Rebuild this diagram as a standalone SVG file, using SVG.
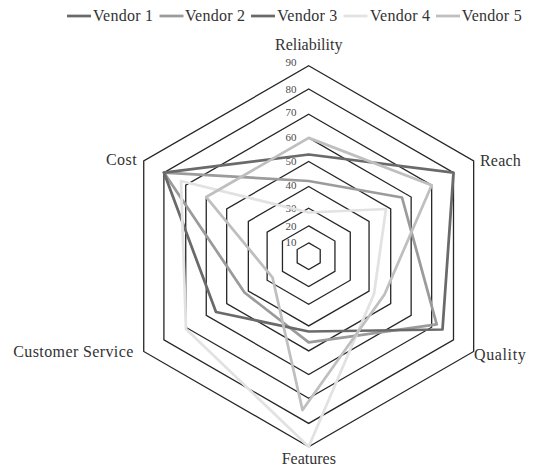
<svg xmlns="http://www.w3.org/2000/svg" width="539" height="468" viewBox="0 0 539 468">
<style>
.bg{fill:#ffffff}
.ring{fill:none;stroke:#262626;stroke-width:1.3;stroke-linejoin:miter}
.series{fill:none;stroke-width:2.75;stroke-linejoin:round}
.v1{stroke:#6a6a6a}
.v2{stroke:#9b9b9b}
.v3{stroke:#6a6a6a}
.v4{stroke:#e2e2e2}
.v5{stroke:#bfbfbf}
.lg{stroke-width:2.75;fill:none}
.txt{font-family:"Liberation Serif","Times New Roman",serif;font-size:16px;fill:#333333}
.tick{font-family:"Liberation Serif","Times New Roman",serif;font-size:11px;fill:#4a4a4a;text-anchor:end}
</style>
<rect class="bg" x="0" y="0" width="539" height="468"/>
<g id="legend">
  <g id="legend-vendor-1"><line class="lg v1" x1="67" y1="16" x2="91" y2="16"/><text class="txt" x="93" y="21" textLength="60">Vendor 1</text></g>
  <g id="legend-vendor-2"><line class="lg v2" x1="159.5" y1="16" x2="183.5" y2="16"/><text class="txt" x="185" y="21" textLength="60">Vendor 2</text></g>
  <g id="legend-vendor-3"><line class="lg v3" x1="251" y1="16" x2="275" y2="16"/><text class="txt" x="277.3" y="21" textLength="60">Vendor 3</text></g>
  <g id="legend-vendor-4"><line class="lg v4" x1="343.5" y1="16" x2="367.5" y2="16"/><text class="txt" x="370" y="21" textLength="60">Vendor 4</text></g>
  <g id="legend-vendor-5"><line class="lg v5" x1="436" y1="16" x2="460" y2="16"/><text class="txt" x="461.7" y="21" textLength="60">Vendor 5</text></g>
</g>
<g id="grid">
  <polygon class="ring" points="308.7,242.9 320.22,249.55 320.22,262.85 308.7,269.5 297.18,262.85 297.18,249.55"/>
  <polygon class="ring" points="308.7,225.9 334.94,241.05 334.94,271.35 308.7,286.5 282.46,271.35 282.46,241.05"/>
  <polygon class="ring" points="308.7,208.2 350.27,232.2 350.27,280.2 308.7,304.2 267.13,280.2 267.13,232.2"/>
  <polygon class="ring" points="308.7,186.5 369.06,221.35 369.06,291.05 308.7,325.9 248.34,291.05 248.34,221.35"/>
  <polygon class="ring" points="308.7,161.5 390.71,208.85 390.71,303.55 308.7,350.9 226.69,303.55 226.69,208.85"/>
  <polygon class="ring" points="308.7,137.9 411.15,197.05 411.15,315.35 308.7,374.5 206.25,315.35 206.25,197.05"/>
  <polygon class="ring" points="308.7,114.2 431.67,185.2 431.67,327.2 308.7,398.2 185.73,327.2 185.73,185.2"/>
  <polygon class="ring" points="308.7,89 453.5,172.6 453.5,339.8 308.7,423.4 163.9,339.8 163.9,172.6"/>
  <polygon class="ring" points="308.7,65.7 473.67,160.95 473.67,351.45 308.7,446.7 143.73,351.45 143.73,160.95"/>
</g>
<g id="ticks">
  <text class="tick" x="296.5" y="246.3">10</text>
  <text class="tick" x="296.5" y="229.7">20</text>
  <text class="tick" x="296.5" y="211.5">30</text>
  <text class="tick" x="296.5" y="189">40</text>
  <text class="tick" x="296.5" y="165">50</text>
  <text class="tick" x="296.5" y="140.5">60</text>
  <text class="tick" x="296.5" y="116">70</text>
  <text class="tick" x="296.5" y="92.5">80</text>
  <text class="tick" x="296.5" y="65.5">90</text>
</g>
<g id="axis-labels">
  <g id="axis-reliability"><text class="txt" x="308.7" y="50" text-anchor="middle" textLength="67.4">Reliability</text></g>
  <g id="axis-reach"><text class="txt" x="480" y="166" textLength="40.7">Reach</text></g>
  <g id="axis-quality"><text class="txt" x="474" y="360" textLength="51.7">Quality</text></g>
  <g id="axis-features"><text class="txt" x="281.7" y="464">Features</text></g>
  <g id="axis-customer-service"><text class="txt" x="13.3" y="357" textLength="120">Customer Service</text></g>
  <g id="axis-cost"><text class="txt" x="106" y="165" textLength="30.7">Cost</text></g>
</g>
<g id="series">
  <polygon id="vendor-2" class="series v2" points="308.7,181 402,197.5 436.7,324.3 308.7,342.3 244.5,292.5 163.9,172.6"/>
  <polygon id="vendor-3" class="series v3" points="308.7,154.5 453.5,172.6 442.5,329.5 308.7,331.5 216,312 163.9,172.6"/>
  <polygon id="vendor-4" class="series v4" points="308.7,212.5 386,209 374,294 308.7,446.7 186,329 181,181"/>
  <polygon id="vendor-5" class="series v5" points="308.7,137.9 431.67,185.2 384.5,294.5 302.5,410 272.5,277.5 206.25,197.05"/>
</g>
</svg>
